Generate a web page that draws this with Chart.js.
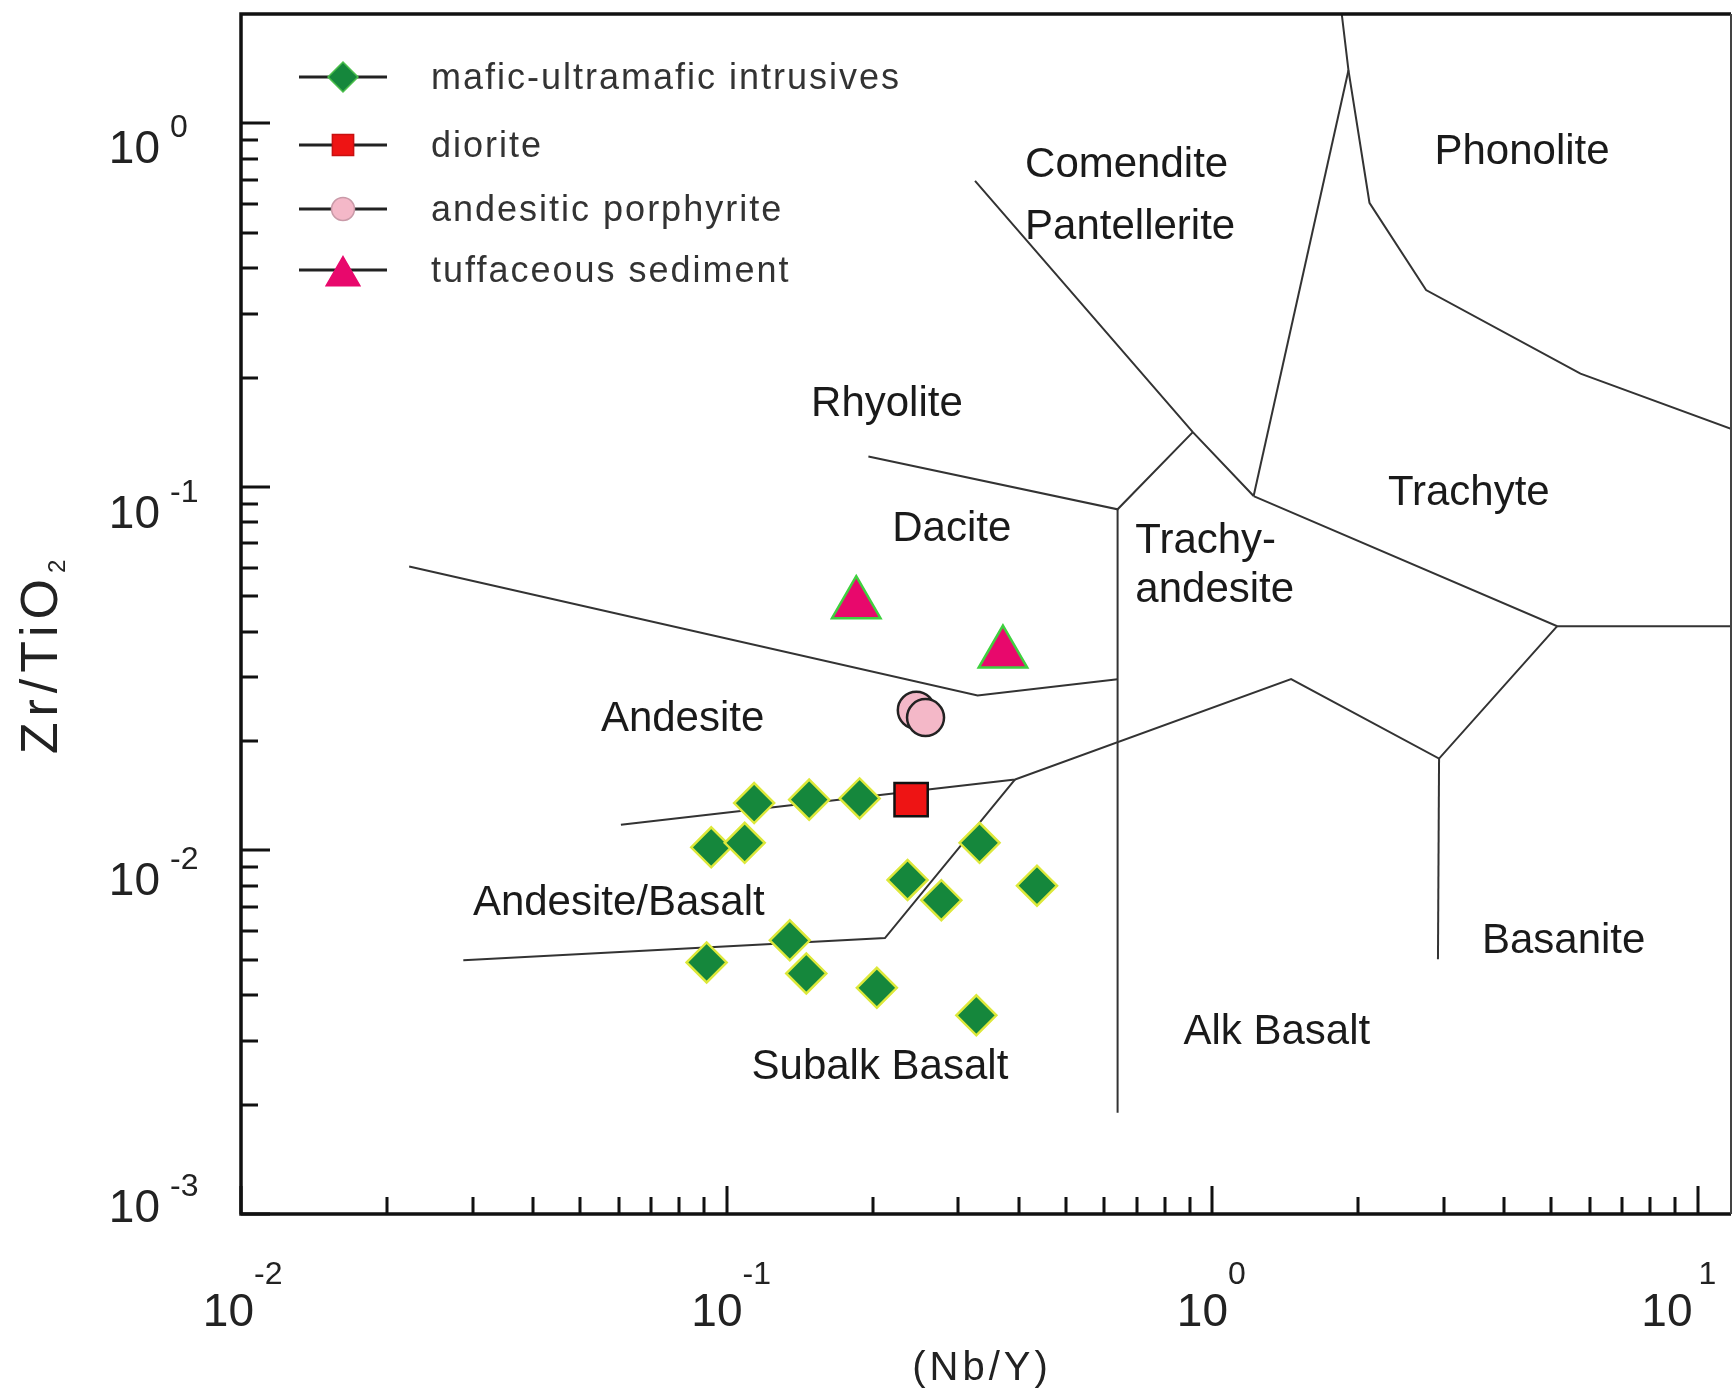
<!DOCTYPE html>
<html>
<head>
<meta charset="utf-8">
<script src="https://cdn.jsdelivr.net/npm/chart.js@4.4.1/dist/chart.umd.min.js"></script>
<style>
  html, body { margin: 0; padding: 0; background: #fff; }
</style>
</head>
<body>
<canvas id="myChart" width="1732" height="1392"></canvas>
<script>
// samples: x = Nb/Y, y = Zr/TiO2
const maficNbY  = [0.114, 0.148, 0.188, 0.093, 0.109, 0.332, 0.236, 0.277, 0.436, 0.135, 0.091, 0.146, 0.204, 0.327];
const maficZrTi = [0.0135, 0.0138, 0.0139, 0.0102, 0.0105, 0.0105, 0.0083, 0.0073, 0.0080, 0.00566, 0.00492, 0.00459, 0.00419, 0.00352];
const dioriteNbY  = [0.240];
const dioriteZrTi = [0.0138];
const porphyriteNbY  = [0.246, 0.257];
const porphyriteZrTi = [0.0243, 0.0232];
const tuffNbY  = [0.185, 0.371];
const tuffZrTi = [0.0476, 0.0348];

// field boundaries (Winchester & Floyd)
const phonoliteNbY  = [1.85, 1.91, 2.11, 2.76, 5.74, 11.72];
const phonoliteZrTi = [2.0, 1.40, 0.605, 0.348, 0.205, 0.1445];
const comTrachyteNbY  = [1.91, 1.218];
const comTrachyteZrTi = [1.40, 0.0944];
const comRhyoliteNbY  = [0.325, 0.913, 1.218];
const comRhyoliteZrTi = [0.695, 0.1415, 0.0944];
const trachyteNbY  = [1.218, 5.14, 11.72];
const trachyteZrTi = [0.0944, 0.0414, 0.0414];
const rhyoDaciteNbY  = [0.196, 0.639, 0.913];
const rhyoDaciteZrTi = [0.1213, 0.0868, 0.1415];
const verticalNbY  = [0.639, 0.639];
const verticalZrTi = [0.0868, 0.0019];
const daciteAndNbY  = [0.0222, 0.329, 0.639];
const daciteAndZrTi = [0.0604, 0.0267, 0.0296];
const andBasaltNbY  = [0.0606, 0.393, 1.455, 2.935, 5.14];
const andBasaltZrTi = [0.01177, 0.01568, 0.0296, 0.0179, 0.0414];
const subalkNbY  = [0.0287, 0.212, 0.393];
const subalkZrTi = [0.00499, 0.00574, 0.01568];
const basaniteNbY  = [2.935, 2.92];
const basaniteZrTi = [0.0179, 0.00502];

const fieldNames = ['Comendite', 'Pantellerite', 'Phonolite', 'Rhyolite', 'Trachyte', 'Dacite', 'Trachy-', 'andesite',
                    'Andesite', 'Andesite/Basalt', 'Basanite', 'Alk Basalt', 'Subalk Basalt'];
const fieldNbY  = [0.412, 0.412, 4.35, 0.214, 3.38, 0.291, 0.695, 0.695, 0.0812, 0.060, 5.30, 1.36, 0.207];
const fieldZrTi = [0.767, 0.519, 0.834, 0.1685, 0.0957, 0.0765, 0.0709, 0.0518, 0.0230, 0.00717, 0.00562, 0.00315, 0.00253];
const fieldAlign = ['left', 'left', 'center', 'center', 'center', 'center', 'left', 'left', 'center', 'center', 'center', 'center', 'center'];

const xTickExps = [-2, -1, 0, 1];
const yTickExps = [0, -1, -2, -3];

const FONT = "'Liberation Sans', Arial, sans-serif";

function pts(xs, ys) {
    return xs.map((x, i) => ({x: x, y: ys[i]}));
}

function boundary(xs, ys) {
    return {
        data: pts(xs, ys),
        showLine: true,
        borderColor: '#333333',
        borderWidth: 2,
        pointRadius: 0,
        pointHoverRadius: 0,
        fill: false
    };
}

function drawMarker(ctx, style, x, y, r) {
    ctx.beginPath();
    if (style === 'rectRot') {
        ctx.moveTo(x - r, y); ctx.lineTo(x, y - r); ctx.lineTo(x + r, y); ctx.lineTo(x, y + r);
    } else if (style === 'rect') {
        const s = r * Math.SQRT1_2;
        ctx.rect(x - s, y - s, 2 * s, 2 * s);
    } else if (style === 'triangle') {
        ctx.moveTo(x, y - r); ctx.lineTo(x + r * 0.866, y + r / 2); ctx.lineTo(x - r * 0.866, y + r / 2);
    } else {
        ctx.arc(x, y, r, 0, Math.PI * 2);
    }
    ctx.closePath();
    ctx.fill();
    ctx.stroke();
}

const diagramPlugin = {
    id: 'diagram',
    beforeDatasetsDraw(chart) {
        const ctx = chart.ctx;
        const x = chart.scales.x, y = chart.scales.y;
        ctx.save();
        ctx.fillStyle = '#1a1a1a';
        ctx.font = '42px ' + FONT;
        ctx.textBaseline = 'middle';
        for (let i = 0; i < fieldNames.length; i++) {
            ctx.textAlign = fieldAlign[i];
            ctx.fillText(fieldNames[i], x.getPixelForValue(fieldNbY[i]), y.getPixelForValue(fieldZrTi[i]));
        }
        ctx.restore();
    },
    afterDraw(chart) {
        const ctx = chart.ctx;
        const a = chart.chartArea;
        const x = chart.scales.x, y = chart.scales.y;
        ctx.save();

        // inward ticks
        ctx.strokeStyle = '#111';
        ctx.lineWidth = 3;
        ctx.beginPath();
        for (let e = -2; e <= 1; e++) {
            for (let m = 1; m <= 9; m++) {
                const v = m * Math.pow(10, e);
                if (v > 10.001) continue;
                const px = Math.round(x.getPixelForValue(v));
                ctx.moveTo(px, a.bottom);
                ctx.lineTo(px, a.bottom - (m === 1 ? 28 : 17));
            }
        }
        for (let e = -3; e <= 0; e++) {
            for (let m = 1; m <= 9; m++) {
                const v = m * Math.pow(10, e);
                if (v > 1.001) continue;
                const py = Math.round(y.getPixelForValue(v));
                ctx.moveTo(a.left, py);
                ctx.lineTo(a.left + (m === 1 ? 29 : 17), py);
            }
        }
        ctx.stroke();

        // frame
        ctx.strokeStyle = '#111';
        ctx.lineWidth = 3.5;
        ctx.beginPath();
        ctx.moveTo(a.right, a.bottom);
        ctx.lineTo(a.left, a.bottom);
        ctx.lineTo(a.left, a.top);
        ctx.lineTo(a.right, a.top);
        ctx.stroke();
        ctx.strokeStyle = '#444';
        ctx.lineWidth = 2;
        ctx.beginPath();
        ctx.moveTo(a.right, a.top);
        ctx.lineTo(a.right, a.bottom);
        ctx.stroke();

        // tick labels 10^n
        ctx.fillStyle = '#222';
        ctx.textBaseline = 'alphabetic';
        const xShift = [13, 16, 16, -5];
        xTickExps.forEach((e, i) => {
            const px = x.getPixelForValue(Math.pow(10, e));
            ctx.font = '46px ' + FONT;
            ctx.textAlign = 'right';
            ctx.fillText('10', px + xShift[i], 1326);
            ctx.font = '32px ' + FONT;
            ctx.textAlign = 'left';
            ctx.fillText(String(e), px + xShift[i] + (e === 1 ? 6 : 0), 1284);
        });
        const yBase = [40, 41, 45, 8];
        yTickExps.forEach((e, i) => {
            const py = y.getPixelForValue(Math.pow(10, e));
            ctx.font = '46px ' + FONT;
            ctx.textAlign = 'right';
            ctx.fillText('10', 160, py + yBase[i]);
            ctx.font = '32px ' + FONT;
            ctx.textAlign = 'left';
            ctx.fillText(String(e), 170, py + yBase[i] - 26);
        });

        // axis titles
        ctx.letterSpacing = '4px';
        ctx.font = '40px ' + FONT;
        ctx.textAlign = 'center';
        ctx.fillText('(Nb/Y)', 982, 1380);

        ctx.save();
        ctx.translate(57, 654);
        ctx.rotate(-Math.PI / 2);
        ctx.letterSpacing = '6px';
        ctx.font = '52px ' + FONT;
        const w1 = ctx.measureText('Zr/TiO').width;
        ctx.font = '24px ' + FONT;
        const w2 = ctx.measureText('2').width;
        ctx.textAlign = 'left';
        ctx.font = '52px ' + FONT;
        ctx.fillText('Zr/TiO', -(w1 + w2) / 2, 0);
        ctx.font = '24px ' + FONT;
        ctx.fillText('2', -(w1 + w2) / 2 + w1, 8);
        ctx.restore();

        // legend
        const rows = [77, 145, 209, 270];
        let row = 0;
        chart.data.datasets.forEach(ds => {
            if (!ds.label) return;
            const ry = rows[row++];
            ctx.strokeStyle = '#222';
            ctx.lineWidth = 3;
            ctx.beginPath();
            ctx.moveTo(299, ry);
            ctx.lineTo(387, ry);
            ctx.stroke();
            ctx.fillStyle = ds.pointBackgroundColor;
            ctx.strokeStyle = ds.legendBorder;
            ctx.lineWidth = 1.5;
            drawMarker(ctx, ds.pointStyle, 343, ry + ds.legendDy, ds.legendRadius);
            ctx.fillStyle = '#333';
            ctx.letterSpacing = '2px';
            ctx.font = '36px ' + FONT;
            ctx.textAlign = 'left';
            ctx.textBaseline = 'alphabetic';
            ctx.fillText(ds.label, 431, ry + 12);
        });
        ctx.restore();
    }
};

const ctx = document.getElementById('myChart').getContext('2d');
const myChart = new Chart(ctx, {
    type: 'scatter',
    data: {
        datasets: [
            {
                label: 'mafic-ultramafic intrusives',
                data: pts(maficNbY, maficZrTi),
                pointStyle: 'rectRot',
                pointRadius: 20,
                pointBackgroundColor: '#15873c',
                pointBorderColor: '#dde83a',
                pointBorderWidth: 2.5,
                legendBorder: '#4cbf4c',
                legendRadius: 15,
                legendDy: 0
            },
            {
                label: 'diorite',
                data: pts(dioriteNbY, dioriteZrTi),
                pointStyle: 'rect',
                pointRadius: 23.5,
                pointBackgroundColor: '#ee1414',
                pointBorderColor: '#111',
                pointBorderWidth: 2.5,
                legendBorder: '#c81010',
                legendRadius: 15,
                legendDy: 0
            },
            {
                label: 'andesitic porphyrite',
                data: pts(porphyriteNbY, porphyriteZrTi),
                pointStyle: 'circle',
                pointRadius: 18.5,
                pointBackgroundColor: '#f4b8c8',
                pointBorderColor: '#222',
                pointBorderWidth: 2.5,
                legendBorder: '#c99aa8',
                legendRadius: 11.5,
                legendDy: 0
            },
            {
                label: 'tuffaceous sediment',
                data: pts(tuffNbY, tuffZrTi),
                pointStyle: 'triangle',
                pointRadius: 28,
                pointBackgroundColor: '#e8086c',
                pointBorderColor: '#3fd03f',
                pointBorderWidth: 2.5,
                legendBorder: '#e8086c',
                legendRadius: 19.5,
                legendDy: 6
            },
            boundary(phonoliteNbY, phonoliteZrTi),
            boundary(comTrachyteNbY, comTrachyteZrTi),
            boundary(comRhyoliteNbY, comRhyoliteZrTi),
            boundary(trachyteNbY, trachyteZrTi),
            boundary(rhyoDaciteNbY, rhyoDaciteZrTi),
            boundary(verticalNbY, verticalZrTi),
            boundary(daciteAndNbY, daciteAndZrTi),
            boundary(andBasaltNbY, andBasaltZrTi),
            boundary(subalkNbY, subalkZrTi),
            boundary(basaniteNbY, basaniteZrTi)
        ]
    },
    options: {
        responsive: false,
        devicePixelRatio: 1,
        animation: false,
        layout: { autoPadding: false, padding: { top: 14, right: 1, left: 0, bottom: 0 } },
        plugins: {
            legend: { display: false },
            tooltip: { enabled: false }
        },
        scales: {
            x: {
                type: 'logarithmic',
                bounds: 'data',
                min: 0.01,
                max: 11.72,
                ticks: { display: false },
                grid: { display: false },
                border: { display: false },
                afterFit: function (s) { s.height = 178; }
            },
            y: {
                type: 'logarithmic',
                bounds: 'data',
                min: 0.001,
                max: 2,
                ticks: { display: false },
                grid: { display: false },
                border: { display: false },
                afterFit: function (s) { s.width = 241; }
            }
        }
    },
    plugins: [diagramPlugin]
});
</script>
</body>
</html>
